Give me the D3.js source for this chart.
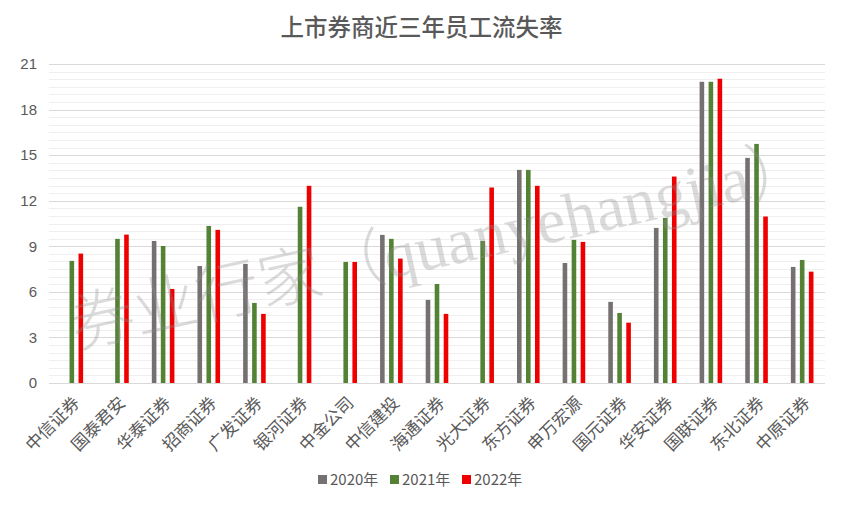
<!DOCTYPE html>
<html>
<head>
<meta charset="utf-8">
<script src="https://cdn.jsdelivr.net/npm/d3@7"></script>
<style>
  html, body { margin: 0; padding: 0; background: #fff; }
  svg { display: block; }
  text { font-family: "Noto Sans CJK SC", "Noto Sans", sans-serif; }
</style>
</head>
<body>
<svg id="chart" width="843" height="506"></svg>
<script>
const categories = ["中信证券","国泰君安","华泰证券","招商证券","广发证券","银河证券","中金公司","中信建投","海通证券","光大证券","东方证券","申万宏源","国元证券","华安证券","国联证券","东北证券","中原证券"];
const seriesNames = ["2020年","2021年","2022年"];
const values2020 = [null, null, 9.35, 7.7, 7.84, null, null, 9.75, 5.47, null, 14.03, 7.9, 5.34, 10.21, 19.83, 14.82, 7.64];
const values2021 = [8.04, 9.49, 9.02, 10.34, 5.27, 11.6, 7.97, 9.49, 6.52, 9.35, 14.03, 9.42, 4.61, 10.87, 19.83, 15.74, 8.1];
const values2022 = [8.52, 9.77, 6.19, 10.08, 4.55, 12.98, 7.97, 8.19, 4.55, 12.87, 12.98, 9.29, 3.97, 13.59, 20.03, 10.96, 7.33];
const yTicks = [0, 3, 6, 9, 12, 15, 18, 21];
const colors = ["#767171", "#548235", "#ee0000"];
const title = "上市券商近三年员工流失率";
const watermark = "券业行家（quanyehangjia）";

const svg = d3.select("#chart");
const W = 843, H = 506;
const m = { left: 49, right: 18, top: 64, bottom: 123 };
const x0 = m.left, x1 = W - m.right, yTop = m.top, yBot = H - m.bottom;

const x = d3.scaleBand().domain(categories).range([x0, x1]).padding(0);
const y = d3.scaleLinear().domain([0, 21]).range([yBot, yTop]);
const xs = d3.scaleBand().domain(seriesNames).range([-13.5, 13.5]);
const barW = 4.6;

// minor gridlines
const minor = d3.range(0.5, 21, 0.5).filter(v => v % 3 !== 0);
svg.append("g").selectAll("line").data(minor).join("line")
  .attr("x1", x0).attr("x2", x1)
  .attr("y1", d => Math.round(y(d)) + 0.5).attr("y2", d => Math.round(y(d)) + 0.5)
  .attr("stroke", "#efefef").attr("stroke-width", 1);

// major gridlines
svg.append("g").selectAll("line").data(yTicks).join("line")
  .attr("x1", x0).attr("x2", x1)
  .attr("y1", d => Math.round(y(d)) + 0.5).attr("y2", d => Math.round(y(d)) + 0.5)
  .attr("stroke", "#d9d9d9").attr("stroke-width", 1);

// y axis labels
const yAxis = d3.axisLeft(y).tickValues(yTicks).tickSize(0).tickPadding(12);
const ga = svg.append("g").attr("transform", `translate(${x0},0)`).call(yAxis);
ga.select(".domain").remove();
ga.selectAll("text").attr("fill", "#595959").style("font-size", "15px")
  .style("font-family", "'Liberation Sans', 'Noto Sans', sans-serif");

// bars
const allSeries = [values2020, values2021, values2022];
seriesNames.forEach((s, si) => {
  const data = categories.map((c, i) => ({ c, v: allSeries[si][i] })).filter(d => d.v != null);
  svg.append("g").selectAll("rect").data(data).join("rect")
    .attr("x", d => x(d.c) + x.bandwidth() / 2 + xs(s) + xs.bandwidth() / 2 - barW / 2)
    .attr("width", barW)
    .attr("y", d => y(d.v))
    .attr("height", d => y(0) - y(d.v))
    .attr("fill", colors[si]);
});

// x labels
const xAxis = d3.axisBottom(x).tickSize(0).tickPadding(0);
const gx = svg.append("g").attr("transform", `translate(0,${yBot})`).call(xAxis);
gx.select(".domain").remove();
gx.selectAll(".tick text")
  .attr("fill", "#595959").style("font-size", "17px")
  .attr("text-anchor", "end")
  .attr("dy", null).attr("y", null)
  .attr("transform", "translate(9,21) rotate(-45)");

// watermark
svg.append("text")
  .attr("transform", "translate(76,348) rotate(-12.5)")
  .attr("fill", "#8c8c8c").attr("fill-opacity", 0.32)
  .style("font-family", "'Liberation Serif', 'DejaVu Serif', 'Noto Sans CJK SC', serif")
  .style("font-size", "64px").style("font-weight", "300")
  .text(watermark);

// title
svg.append("text").attr("x", W / 2).attr("y", 36).attr("text-anchor", "middle")
  .attr("fill", "#595959").style("font-size", "23.5px").style("font-weight", "500")
  .text(title);

// legend
const legend = svg.append("g").attr("transform", "translate(318,480)");
const itemW = 72;
seriesNames.forEach((s, i) => {
  const g = legend.append("g").attr("transform", `translate(${i * itemW},0)`);
  g.append("rect").attr("x", 0).attr("y", -5).attr("width", 9).attr("height", 9).attr("fill", colors[i]);
  g.append("text").attr("x", 12).attr("y", 0).attr("dy", "0.35em")
    .attr("fill", "#595959").style("font-size", "15px").text(s);
});
</script>
</body>
</html>
